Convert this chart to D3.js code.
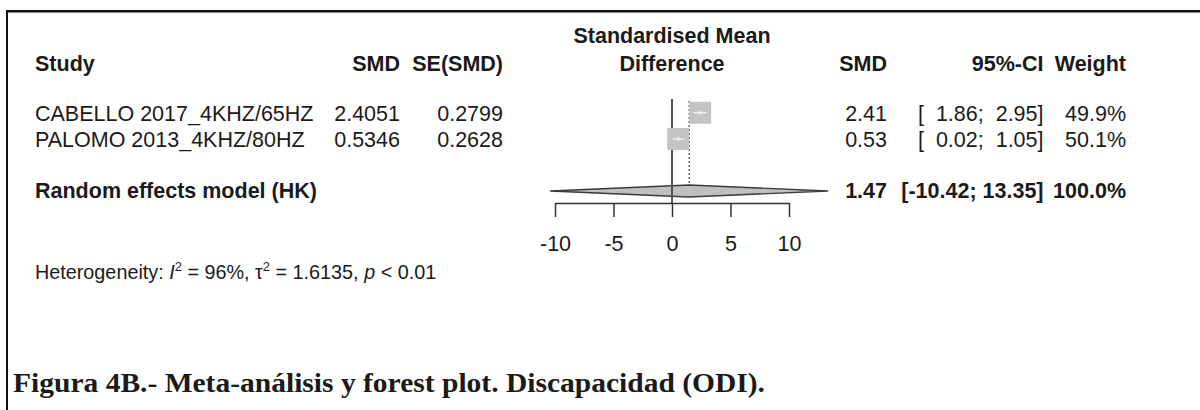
<!DOCTYPE html>
<html>
<head>
<meta charset="utf-8">
<script src="https://cdn.jsdelivr.net/npm/d3@7/dist/d3.min.js"></script>
<style>
  html, body { margin: 0; padding: 0; background: #fff; }
  svg text { fill: #1a1a1a; white-space: pre; }
</style>
</head>
<body>
<svg id="chart" width="1200" height="410"></svg>
<script>
// Study-level data
const studies = ["CABELLO 2017_4KHZ/65HZ", "PALOMO 2013_4KHZ/80HZ"];
const smdValues = [2.4051, 0.5346];
const seValues = [0.2799, 0.2628];
const ciLower = [1.86, 0.02];
const ciUpper = [2.95, 1.05];
const weights = [49.9, 50.1];

// Pooled (random effects, Hartung-Knapp) estimate
const pooledLabel = "Random effects model (HK)";
const pooledEstimate = 1.47;
const pooledCI = [-10.42, 13.35];
const pooledWeight = 100.0;

// Axis ticks
const axisTicks = [-10, -5, 0, 5, 10];

const SANS = "'Liberation Sans', Arial, sans-serif";
const SERIF = "'Liberation Serif', 'Times New Roman', serif";

const svg = d3.select("#chart").style("font-family", SANS);
const fmt2 = v => v.toFixed(2);
const fmt4 = v => v.toFixed(4);
const fmtW = v => v.toFixed(1) + "%";
const pad = (v, n) => fmt2(v).padStart(n, " ");
const ciText = (lo, hi) => "[" + pad(lo, 6) + "; " + pad(hi, 5) + "]";

// Frame around the figure
svg.append("line").attr("x1", 6).attr("x2", 1200).attr("y1", 11.2).attr("y2", 11.2)
  .attr("stroke", "#111").attr("stroke-width", 2.6);
svg.append("line").attr("x1", 7).attr("x2", 7).attr("y1", 10).attr("y2", 410)
  .attr("stroke", "#111").attr("stroke-width", 2);

const x = d3.scaleLinear().domain([-10, 10]).range([555, 789]);
const rowY = d3.scaleOrdinal().domain(studies).range([112.8, 139]);
const pooledY = 191;
const axisY = 203;
const fs = 21.5;
const textLeft = 35;
const colSmd = 400, colSe = 503, colEst = 887, colCi = 1043.5, colW = 1126;

// Column headers
const head = svg.append("g").attr("font-weight", "bold").attr("font-size", fs);
head.append("text").attr("x", textLeft).attr("y", 71).text("Study");
head.append("text").attr("x", colSmd).attr("y", 71).attr("text-anchor", "end").text("SMD");
head.append("text").attr("x", colSe).attr("y", 71).attr("text-anchor", "end").text("SE(SMD)");
head.append("text").attr("x", x(0)).attr("y", 43).attr("text-anchor", "middle").text("Standardised Mean");
head.append("text").attr("x", x(0)).attr("y", 71).attr("text-anchor", "middle").text("Difference");
head.append("text").attr("x", colEst).attr("y", 71).attr("text-anchor", "end").text("SMD");
head.append("text").attr("x", colCi).attr("y", 71).attr("text-anchor", "end").text("95%-CI");
head.append("text").attr("x", colW).attr("y", 71).attr("text-anchor", "end").text("Weight");

// Study rows
const rows = svg.append("g").attr("font-size", fs);
studies.forEach((s, i) => {
  const y = rowY(s) + 7.8;
  rows.append("text").attr("x", textLeft).attr("y", y).text(s);
  rows.append("text").attr("x", colSmd).attr("y", y).attr("text-anchor", "end").text(fmt4(smdValues[i]));
  rows.append("text").attr("x", colSe).attr("y", y).attr("text-anchor", "end").text(fmt4(seValues[i]));
  rows.append("text").attr("x", colEst).attr("y", y).attr("text-anchor", "end").text(fmt2(smdValues[i]));
  rows.append("text").attr("x", colCi).attr("y", y).attr("text-anchor", "end").text(ciText(ciLower[i], ciUpper[i]));
  rows.append("text").attr("x", colW).attr("y", y).attr("text-anchor", "end").text(fmtW(weights[i]));
});

// Pooled row text
const pooled = svg.append("g").attr("font-size", fs).attr("font-weight", "bold");
const py = pooledY + 7;
pooled.append("text").attr("x", textLeft).attr("y", py).text(pooledLabel);
pooled.append("text").attr("x", colEst).attr("y", py).attr("text-anchor", "end").text(fmt2(pooledEstimate));
pooled.append("text").attr("x", colCi).attr("y", py).attr("text-anchor", "end").text(ciText(pooledCI[0], pooledCI[1]));
pooled.append("text").attr("x", colW).attr("y", py).attr("text-anchor", "end").text(fmtW(pooledWeight));

// Pooled diamond
const dh = 6;
svg.append("path")
  .attr("d", `M${x(pooledCI[0])},${pooledY} L${x(pooledEstimate)},${pooledY - dh} L${x(pooledCI[1])},${pooledY} L${x(pooledEstimate)},${pooledY + dh} Z`)
  .attr("fill", "#bfbfbf").attr("stroke", "#3a3a3a").attr("stroke-width", 1.4);

// Reference line at no effect
svg.append("line").attr("x1", x(0)).attr("x2", x(0)).attr("y1", 99).attr("y2", axisY)
  .attr("stroke", "#555").attr("stroke-width", 2);
// Pooled estimate line
svg.append("line").attr("x1", x(pooledEstimate)).attr("x2", x(pooledEstimate))
  .attr("y1", 101).attr("y2", pooledY - 6)
  .attr("stroke", "#555").attr("stroke-width", 1.3).attr("stroke-dasharray", "2,2");

// Study squares (area proportional to weight) with confidence intervals drawn inside
const sq = d => 22 * Math.sqrt(d / 50);
const marks = svg.append("g");
studies.forEach((s, i) => {
  const cx = x(smdValues[i]), cy = rowY(s), w = sq(weights[i]);
  marks.append("rect").attr("x", cx - w / 2).attr("y", cy - w / 2).attr("width", w).attr("height", w)
    .attr("fill", "#c4c4c4");
  marks.append("line").attr("x1", x(ciLower[i])).attr("x2", x(ciUpper[i])).attr("y1", cy).attr("y2", cy)
    .attr("stroke", "#f4f4f4").attr("stroke-width", 1.4);
  marks.append("line").attr("x1", cx).attr("x2", cx).attr("y1", cy - 2).attr("y2", cy + 2)
    .attr("stroke", "#f4f4f4").attr("stroke-width", 1.2);
});

// x axis
const axis = svg.append("g").attr("transform", `translate(0,${axisY})`)
  .call(d3.axisBottom(x).tickValues(axisTicks).tickSize(14).tickSizeOuter(0).tickPadding(19)
    .tickFormat(d => String(d)));
axis.attr("font-family", null).attr("font-size", null);
axis.select(".domain").attr("stroke", "#333").attr("stroke-width", 1.5);
axis.selectAll(".tick line").attr("stroke", "#333").attr("stroke-width", 1.5);
axis.selectAll(".tick text").style("font-size", fs + "px").style("font-family", SANS).attr("fill", "#1a1a1a");

// Heterogeneity statement
const hfs = 19.8;
const het = svg.append("text").attr("x", textLeft).attr("y", 279).attr("font-size", hfs);
het.append("tspan").text("Heterogeneity: ");
het.append("tspan").attr("font-style", "italic").text("I");
het.append("tspan").attr("dy", -8).attr("font-size", 13).text("2");
het.append("tspan").attr("dy", 8).text(" = 96%, τ");
het.append("tspan").attr("dy", -8).attr("font-size", 13).text("2");
het.append("tspan").attr("dy", 8).text(" = 1.6135, ");
het.append("tspan").attr("font-style", "italic").text("p");
het.append("tspan").text(" < 0.01");

// Figure caption
svg.append("text").attr("x", 13).attr("y", 392)
  .style("font-family", SERIF)
  .attr("font-weight", "bold").attr("font-size", 27)
  .attr("fill", "#000")
  .attr("textLength", 752).attr("lengthAdjust", "spacingAndGlyphs")
  .text("Figura 4B.- Meta-análisis y forest plot. Discapacidad (ODI).");
</script>
</body>
</html>
